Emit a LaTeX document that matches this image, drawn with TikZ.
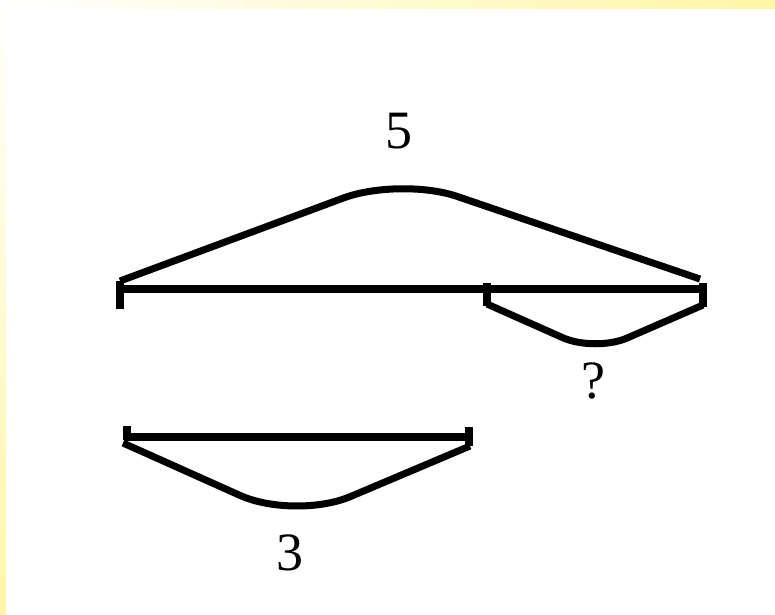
\documentclass[tikz,border=0pt]{standalone}
\usepackage{fontspec}
\setmainfont{Liberation Serif}
\definecolor{barcol}{HTML}{FFF6A6}
\tikzset{
  seg/.style={line width=7.5pt},
  arc/.style={line width=7pt, rounded corners=60pt},
  lbl/.style={font=\fontsize{54}{58}\selectfont, inner sep=0pt}
}
\begin{document}
\begin{tikzpicture}[x=1pt,y=-1pt]
\useasboundingbox (0,0) rectangle (775,614);
\fill[white] (0,0) rectangle (775,614);
\shade[left color=white, right color=barcol] (0,0) rectangle (775,8);
\shade[top color=white, bottom color=barcol] (0,0) rectangle (6,614);
% whole amount
\coordinate (a) at (120,289);
\coordinate (b) at (487,289);
\coordinate (c) at (703,289);
\draw[seg] (a) -- (c);
\draw[seg] (120,281) -- (120,309);
\draw[seg] (487,283) -- (487,306);
\draw[seg] (703,283) -- (703,307);
\draw[arc] (120,281) -- (400,177) -- (700,279);
\node[lbl] (five) at (399,131) {5};
\draw[arc, rounded corners=35pt] (487,304) -- (595,352) -- (703,305);
\node[lbl] (unk) at (593,381) {?};
% known part
\coordinate (d) at (125,437);
\coordinate (e) at (470,437);
\draw[seg] (d) -- (e);
\draw[seg] (127,426) -- (127,440);
\draw[seg] (469,427) -- (469,446);
\draw[arc] (123,443) -- (295,520) -- (470,446);
\node[lbl] (three) at (290,553) {3};
\end{tikzpicture}
\end{document}
